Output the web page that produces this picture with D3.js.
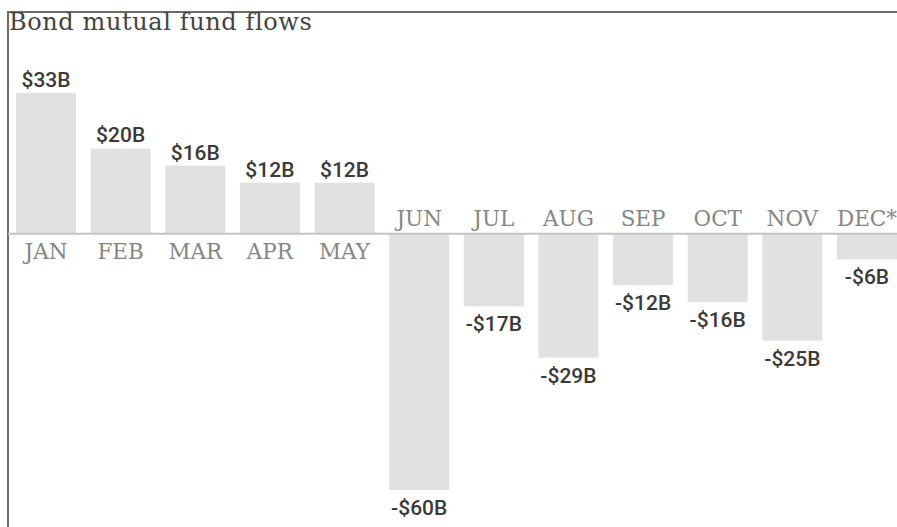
<!DOCTYPE html>
<html>
<head>
<meta charset="utf-8">
<script src="https://cdn.jsdelivr.net/npm/d3@7"></script>
<style>
  body { margin: 0; background: #fff; }
  svg { display: block; }
</style>
</head>
<body>
<div id="chart"></div>
<script>
// Monthly flows, billions of dollars
let months = ['JAN', 'FEB', 'MAR', 'APR', 'MAY', 'JUN', 'JUL', 'AUG', 'SEP', 'OCT', 'NOV', 'DEC*'];
let flows  = [33, 20, 16, 12, 12, -60, -17, -29, -12, -16, -25, -6];
let title  = 'Bond mutual fund flows';

const width  = 897;
const height = 527;

let data = months.map((m, i) => ({ month: m, value: flows[i] }));

let svg = d3.select('#chart').append('svg')
  .attr('width', width)
  .attr('height', height);

const x = d3.scaleBand()
  .domain(months)
  .range([16, 897])
  .paddingInner(0.196)
  .paddingOuter(0);

const y = d3.scaleLinear()
  .domain([-60, 33])
  .range([490, 93]);

// frame: top + left rule
svg.append('line')
  .attr('x1', 8).attr('x2', width)
  .attr('y1', 12).attr('y2', 12)
  .attr('stroke', '#6b6b6b').attr('stroke-width', 2);
svg.append('line')
  .attr('x1', 8).attr('x2', 8)
  .attr('y1', 11).attr('y2', height)
  .attr('stroke', '#6b6b6b').attr('stroke-width', 2);

svg.append('text')
  .attr('x', 9)
  .attr('y', 30)
  .attr('font-family', 'DejaVu Serif')
  .attr('font-size', 24)
  .attr('letter-spacing', 0.6)
  .attr('fill', '#444')
  .text(title);

// bars
svg.selectAll('rect.bar')
  .data(data)
  .join('rect')
  .attr('class', 'bar')
  .attr('x', d => x(d.month))
  .attr('width', x.bandwidth())
  .attr('y', d => y(Math.max(0, d.value)))
  .attr('height', d => Math.abs(y(d.value) - y(0)))
  .attr('fill', '#e1e1e1');

// zero line
svg.append('line')
  .attr('x1', 8).attr('x2', width)
  .attr('y1', y(0)).attr('y2', y(0))
  .attr('stroke', '#c4c4c4').attr('stroke-width', 2);

// month labels, on the other side of the line from the bar
svg.selectAll('text.month')
  .data(data)
  .join('text')
  .attr('class', 'month')
  .attr('x', d => x(d.month) + x.bandwidth() / 2)
  .attr('y', d => d.value >= 0 ? y(0) + 25 : y(0) - 8)
  .attr('text-anchor', 'middle')
  .attr('font-family', 'DejaVu Serif')
  .attr('font-size', 21.5)
  .attr('fill', '#868686')
  .text(d => d.month);

// value labels
let fmt = v => v >= 0 ? '$' + v + 'B' : '-$' + (-v) + 'B';

svg.selectAll('text.val')
  .data(data)
  .join('text')
  .attr('class', 'val')
  .attr('x', d => x(d.month) + x.bandwidth() / 2)
  .attr('y', d => d.value >= 0 ? y(d.value) - 6 : y(d.value) + 25)
  .attr('text-anchor', 'middle')
  .attr('font-family', 'Roboto')
  .attr('font-weight', 500)
  .attr('font-size', 21)
  .attr('fill', '#3a3a3a')
  .text(d => fmt(d.value));
</script>
</body>
</html>
